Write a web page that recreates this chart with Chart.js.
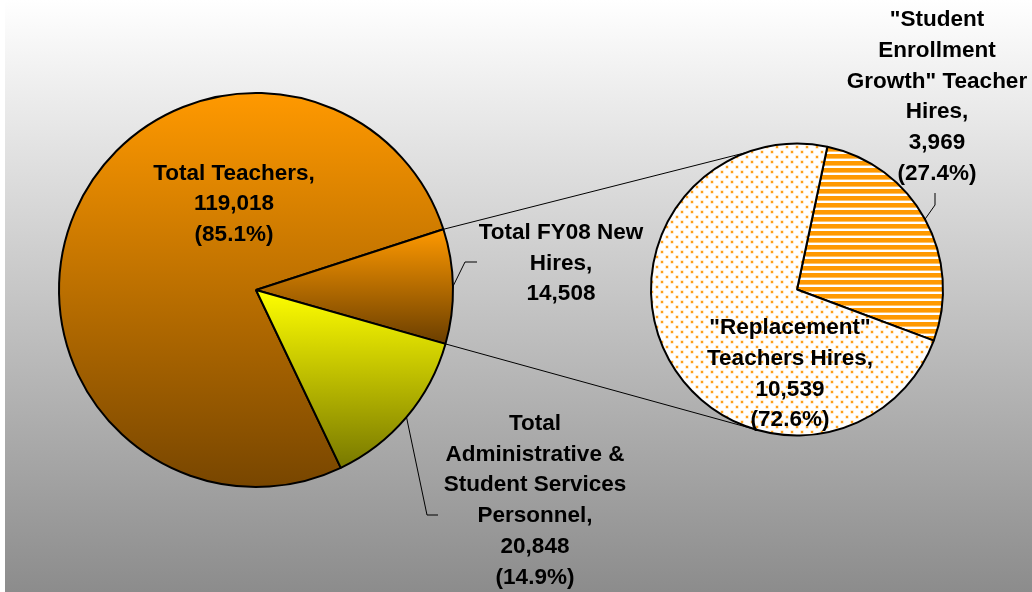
<!DOCTYPE html>
<html>
<head>
<meta charset="utf-8">
<script src="https://cdn.jsdelivr.net/npm/chart.js@4.4.1/dist/chart.umd.min.js"></script>
<style>
  html, body { margin: 0; padding: 0; }
  #wrap { position: relative; width: 1032px; height: 592px; background: #fff; }
  #bg { position: absolute; left: 5px; top: 0; width: 1027px; height: 592px; background: linear-gradient(#ffffff, #8c8c8c); }
  canvas { position: absolute; left: 0; top: 0; }
</style>
</head>
<body>
<div id="wrap">
  <div id="bg"></div>
  <canvas id="leftPie" width="1032" height="592"></canvas>
  <canvas id="rightPie" width="1032" height="592"></canvas>
</div>
<script>
// main pie
const leftCategories = [
  ['Total Teachers'],
  ['Total FY08 New', 'Hires'],
  ['Total', 'Administrative &', 'Student Services', 'Personnel'],
];
const leftValues = [119018, 14508, 20848];
const leftPercents = ['85.1%', null, '14.9%'];

// breakdown of the new hires
const rightCategories = [
  ['"Student', 'Enrollment', 'Growth" Teacher', 'Hires'],
  ['"Replacement"', 'Teachers Hires'],
];
const rightValues = [3969, 10539];
const rightPercents = ['27.4%', '72.6%'];

const FONT = 'bold 22.5px "Liberation Sans", Arial, sans-serif';
const LINE_H = 30.8;

// gradient colours (top, bottom) of each main slice
const leftColors = [['#FF9900', '#784600'], ['#FF9900', '#6A3E00'], ['#FFFF00', '#787800']];

// where the labels sit, plus the elbow of their leader lines
const leftLabelPos = [
  { x: 234, y: 179.5 },
  { x: 561, y: 238.8, elbow: [[465, 262], [477, 262]] },
  { x: 535, y: 429.7, elbow: [[427, 515], [438, 515]] },
];
const rightLabelPos = [
  { x: 937, y: 26, elbow: [[935, 205], [935, 193]] },
  { x: 790, y: 334 },
];

function labelLines(cat, value, pct) {
  const lines = cat.slice();
  lines[lines.length - 1] += ',';
  lines.push(value.toLocaleString('en-US'));
  if (pct) lines.push('(' + pct + ')');
  return lines;
}

// vertical extent of slice i, worked out from the data and chart geometry
function sliceRange(chart, i) {
  const vals = chart.data.datasets[0].data;
  const total = vals.reduce((a, b) => a + b, 0);
  const area = chart.chartArea;
  const cy = (area.top + area.bottom) / 2;
  const r = chart.options.radius;
  let a0 = (chart.options.rotation - 90) * Math.PI / 180;
  for (let k = 0; k < i; k++) a0 += vals[k] / total * Math.PI * 2;
  const a1 = a0 + vals[i] / total * Math.PI * 2;
  const ys = [cy, cy + r * Math.sin(a0), cy + r * Math.sin(a1)];
  for (let k = -2; k <= 4; k++) {
    const t = Math.PI / 2 + k * Math.PI;
    if (t > a0 && t < a1) ys.push(cy + r * Math.sin(t));
  }
  return [Math.min(...ys), Math.max(...ys)];
}

function sliceGradient(c) {
  const chart = c.chart;
  const cols = leftColors[c.dataIndex] || leftColors[0];
  if (!chart.chartArea || c.dataIndex === undefined) return cols[0];
  const [y0, y1] = sliceRange(chart, c.dataIndex);
  const g = chart.ctx.createLinearGradient(0, y0, 0, y1);
  g.addColorStop(0, cols[0]);
  g.addColorStop(1, cols[1]);
  return g;
}

function makeStripes() {
  const cv = document.createElement('canvas');
  cv.width = 7; cv.height = 7;
  const x = cv.getContext('2d');
  x.fillStyle = '#ffffff'; x.fillRect(0, 0, 7, 7);
  x.fillStyle = '#FF9900'; x.fillRect(0, 0, 7, 4);
  x.fillStyle = '#FFC266'; x.fillRect(0, 4, 7, 1);
  return x.createPattern(cv, 'repeat');
}

function makeDots() {
  const cv = document.createElement('canvas');
  cv.width = 10; cv.height = 10;
  const x = cv.getContext('2d');
  x.fillStyle = '#ffffff'; x.fillRect(0, 0, 10, 10);
  [[2, 2], [7, 7]].forEach(([px, py]) => {
    x.fillStyle = '#FFD699'; x.fillRect(px - 1.5, py - 1.5, 3, 3);
    x.fillStyle = '#FF9F1A'; x.fillRect(px - 1, py - 1, 2, 2);
  });
  return x.createPattern(cv, 'repeat');
}

function edgePoint(arc, angle, r) {
  const rr = r === undefined ? arc.outerRadius : r;
  return [arc.x + Math.cos(angle) * rr, arc.y + Math.sin(angle) * rr];
}

function drawText(ctx, lines, x, y) {
  ctx.save();
  ctx.font = FONT;
  ctx.fillStyle = '#000';
  ctx.textAlign = 'center';
  ctx.textBaseline = 'alphabetic';
  lines.forEach((t, k) => ctx.fillText(t, x, y + k * LINE_H));
  ctx.restore();
}

function drawLeader(ctx, arc, pts) {
  const mid = (arc.startAngle + arc.endAngle) / 2;
  const p = edgePoint(arc, mid);
  ctx.save();
  ctx.strokeStyle = '#000';
  ctx.lineWidth = 1;
  ctx.beginPath();
  ctx.moveTo(p[0], p[1]);
  pts.forEach(q => ctx.lineTo(q[0], q[1]));
  ctx.stroke();
  ctx.restore();
}

function labelPlugin(cats, vals, pcts, pos) {
  return {
    id: 'pieLabels',
    afterDatasetsDraw(chart) {
      const ctx = chart.ctx;
      const arcs = chart.getDatasetMeta(0).data;
      pos.forEach((p, i) => {
        if (p.elbow) drawLeader(ctx, arcs[i], p.elbow);
        drawText(ctx, labelLines(cats[i], vals[i], pcts[i]), p.x, p.y);
      });
    },
  };
}

const leftChart = new Chart(document.getElementById('leftPie'), {
  type: 'pie',
  data: {
    labels: leftCategories.map(c => c.join(' ')),
    datasets: [{
      data: leftValues,
      backgroundColor: sliceGradient,
      borderColor: '#000',
      borderWidth: 2,
    }],
  },
  options: {
    responsive: false,
    animation: false,
    rotation: 154.5,
    radius: 197,
    layout: { padding: { left: 59, right: 579, top: 93, bottom: 105 } },
    plugins: { legend: { display: false }, tooltip: { enabled: false } },
  },
  plugins: [labelPlugin(leftCategories, leftValues, leftPercents, leftLabelPos)],
});

// lines joining the new hires slice to the second pie
const connectors = {
  id: 'connectors',
  beforeDatasetsDraw(chart) {
    const src = leftChart.getDatasetMeta(0).data[1];
    const dst = chart.getDatasetMeta(0).data[0];
    const a = edgePoint(src, src.startAngle);
    const b = edgePoint(src, src.endAngle);
    const c = edgePoint(dst, -110 * Math.PI / 180);
    const d = edgePoint(dst, 106 * Math.PI / 180);
    const ctx = chart.ctx;
    ctx.save();
    ctx.strokeStyle = '#000';
    ctx.lineWidth = 1;
    ctx.beginPath();
    ctx.moveTo(a[0], a[1]); ctx.lineTo(c[0], c[1]);
    ctx.moveTo(b[0], b[1]); ctx.lineTo(d[0], d[1]);
    ctx.stroke();
    ctx.restore();
  },
};

new Chart(document.getElementById('rightPie'), {
  type: 'pie',
  data: {
    labels: rightCategories.map(c => c.join(' ')),
    datasets: [{
      data: rightValues,
      backgroundColor: [makeStripes(), makeDots()],
      borderColor: '#000',
      borderWidth: 2,
    }],
  },
  options: {
    responsive: false,
    animation: false,
    rotation: 12,
    radius: 146,
    layout: { padding: { left: 651, right: 89, top: 143, bottom: 156 } },
    plugins: { legend: { display: false }, tooltip: { enabled: false } },
  },
  plugins: [connectors, labelPlugin(rightCategories, rightValues, rightPercents, rightLabelPos)],
});
</script>
</body>
</html>
